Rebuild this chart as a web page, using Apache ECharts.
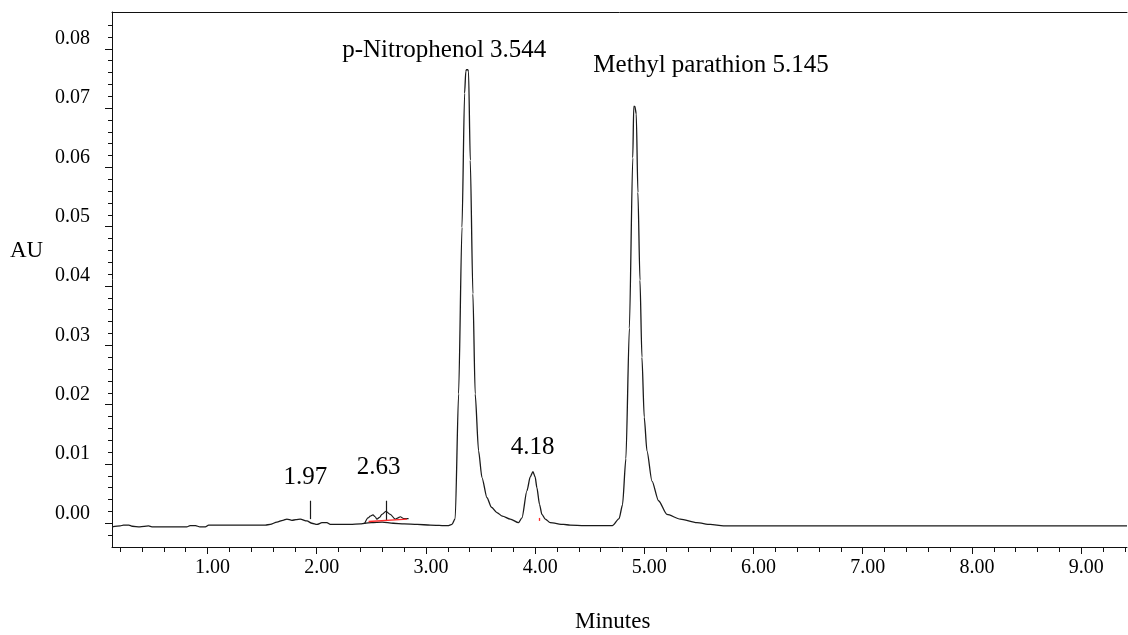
<!DOCTYPE html>
<html>
<head>
<meta charset="utf-8">
<script src="https://cdn.jsdelivr.net/npm/echarts@6/dist/echarts.min.js"></script>
<style>
html,body{margin:0;padding:0;background:#fff;}
#chart{width:1128px;height:635px;}
</style>
</head>
<body>
<div id="chart"></div>
<script>
// Retention time (minutes) and absorbance (AU) of the main trace
var traceTime = [0.125,0.20,0.23,0.28,0.31,0.38,0.46,0.49,0.81,0.84,0.89,0.93,0.98,1.01,1.53,1.574,1.635,1.69,1.727,1.773,1.81,1.849,1.91,1.956,2.002,2.048,2.093,2.124,2.307,2.40,2.44,2.50,2.60,2.70,2.80,2.92,3.04,3.20,3.238,3.268,3.299,3.330,3.354,3.365,3.372,3.382,3.390,3.406,3.430,3.451,3.482,3.513,3.559,3.60,3.650,3.70,3.772,3.848,3.879,3.925,3.955,3.980,4.000,4.016,4.040,4.062,4.093,4.138,4.26,4.32,4.45,4.707,4.769,4.800,4.831,4.863,4.894,4.903,4.913,4.926,4.941,4.960,4.978,4.999,5.024,5.07,5.13,5.207,5.329,5.482,5.604,5.725,9.42];
var traceAU = [-0.0006,-0.00045,-0.0003,-0.0003,-0.0005,-0.0006,-0.00045,-0.0006,-0.0006,-0.0004,-0.0004,-0.0006,-0.0006,-0.0003,-0.0003,-0.0002,0.0002,0.0005,0.0007,0.0005,0.0006,0.0007,0.0004,0.0000,-0.0002,0.0001,0.0001,-0.0002,-0.0002,-0.0001,0.0000,0.0001,0.0002,0.0000,-0.0001,-0.0002,-0.0003,-0.0004,-0.0002,0.0008,0.0218,0.0499,0.0725,0.0762,0.0765,0.0765,0.0762,0.0612,0.0387,0.0218,0.0122,0.0077,0.0043,0.0027,0.0018,0.0012,0.0007,0.0001,0.0009,0.0055,0.0078,0.0087,0.0078,0.0060,0.0032,0.0015,0.0007,0.0001,-0.0002,-0.0003,-0.0004,-0.0004,0.0008,0.0031,0.0109,0.0329,0.0616,0.0703,0.0703,0.0690,0.0558,0.0410,0.0280,0.0179,0.0122,0.0071,0.0038,0.0015,0.0007,0.0001,-0.0002,-0.00045,-0.00045];

// Integration overlay of the small peaks near 2.5-2.8 min
var overlayTime = [2.44,2.47,2.490,2.515,2.535,2.551,2.575,2.597,2.634,2.673,2.719,2.745,2.765,2.795,2.841];
var overlayAU = [0.0000,0.0009,0.0012,0.0014,0.0011,0.0007,0.0010,0.0015,0.0020,0.0015,0.0007,0.0009,0.0011,0.0008,0.0008];

// Peak annotations
var peakLabels = ['1.97','2.63','p-Nitrophenol 3.544','4.18','Methyl parathion 5.145'];
var peakLabelTime = [1.895,2.566,3.168,3.976,5.611];
var peakLabelAU = [0.0077,0.0094,0.0798,0.0128,0.0772];

// Peak marker ticks [time, topAU, bottomAU]
var markerTime = [1.94,2.636];
var markerTop = [0.0038,0.0038];
var markerBottom = [0.0007,0.0004];

// Axis ticks
var xMajorTicks = [1,2,3,4,5,6,7,8,9];
var xMinorTicks = [0.2,0.4,0.6,0.8,1.2,1.4,1.6,1.8,2.2,2.4,2.6,2.8,3.2,3.4,3.6,3.8,4.2,4.4,4.6,4.8,5.2,5.4,5.6,5.8,6.2,6.4,6.6,6.8,7.2,7.4,7.6,7.8,8.2,8.4,8.6,8.8,9.2,9.4];
var yMajorTicks = [0,0.01,0.02,0.03,0.04,0.05,0.06,0.07,0.08];
var yMinorTicks = [-0.002,0.002,0.004,0.006,0.008,0.012,0.014,0.016,0.018,0.022,0.024,0.026,0.028,0.032,0.034,0.036,0.038,0.042,0.044,0.046,0.048,0.052,0.054,0.056,0.058,0.062,0.064,0.066,0.068,0.072,0.074,0.076,0.078,0.082,0.084];

var X_MIN = 0.125, X_MAX = 9.42, Y_MIN = -0.004, Y_MAX = 0.0862;
var FONT = 'Liberation Serif';
var INK = '#000';

var traceData = traceTime.map(function(t,i){return [t, traceAU[i]];});
var overlayData = overlayTime.map(function(t,i){return [t, overlayAU[i]];});
var labelData = peakLabels.map(function(s,i){return {name:s, value:[peakLabelTime[i], peakLabelAU[i]]};});
var markerLines = markerTime.map(function(t,i){return [{coord:[t, markerTop[i]]},{coord:[t, markerBottom[i]]}];});

var chart = echarts.init(document.getElementById('chart'), null, {renderer:'canvas'});
chart.setOption({
  animation:false,
  backgroundColor:'#fff',
  textStyle:{fontFamily:FONT},
  grid:{left:112, right:1, top:12, bottom:88, containLabel:false},
  xAxis:[
    {type:'value', min:X_MIN, max:X_MAX, position:'bottom',
     axisLine:{show:true, onZero:false, lineStyle:{color:'#111', width:1}},
     axisTick:{show:true, customValues:xMajorTicks, length:7, lineStyle:{color:'#111'}},
     axisLabel:{show:true, customValues:xMajorTicks, margin:11, color:INK, fontFamily:FONT, fontSize:20, padding:[0,0,0,10],
       formatter:function(v){return v.toFixed(2);}},
     splitLine:{show:false}},
    {type:'value', min:X_MIN, max:X_MAX, position:'bottom',
     axisLine:{show:false, onZero:false},
     axisTick:{show:true, customValues:xMinorTicks, length:5, lineStyle:{color:'#111'}},
     axisLabel:{show:false}, splitLine:{show:false}},
    {type:'value', min:X_MIN, max:X_MAX, position:'top',
     axisLine:{show:true, onZero:false, lineStyle:{color:'#111', width:1}},
     axisTick:{show:false}, axisLabel:{show:false}, splitLine:{show:false}}
  ],
  yAxis:[
    {type:'value', min:Y_MIN, max:Y_MAX, position:'left',
     axisLine:{show:true, onZero:false, lineStyle:{color:'#111', width:1}},
     axisTick:{show:true, customValues:yMajorTicks, length:7, lineStyle:{color:'#111'}},
     axisLabel:{show:true, customValues:yMajorTicks, margin:22, color:INK, fontFamily:FONT, fontSize:20, verticalAlign:'bottom',
       formatter:function(v){return v.toFixed(2);}},
     splitLine:{show:false}},
    {type:'value', min:Y_MIN, max:Y_MAX, position:'left',
     axisLine:{show:false, onZero:false},
     axisTick:{show:true, customValues:yMinorTicks, length:4, lineStyle:{color:'#111'}},
     axisLabel:{show:false}, splitLine:{show:false}}
  ],
  graphic:[
    {type:'text', left:10, top:239, style:{text:'AU', font:'23px "Liberation Serif"', fill:INK}},
    {type:'text', left:575, top:610, style:{text:'Minutes', font:'23px "Liberation Serif"', fill:INK}}
  ],
  series:[
    {type:'line', name:'trace', data:traceData, showSymbol:false, smooth:0.25, smoothMonotone:'x',
     lineStyle:{color:'#1a1a1a', width:1.3}, z:3,
     markLine:{silent:true, symbol:['none','none'], label:{show:false},
       lineStyle:{color:'#1a1a1a', width:1.2, type:'solid'},
       data:markerLines}},
    {type:'line', name:'overlay', data:overlayData, showSymbol:false, smooth:0.3, smoothMonotone:'x',
     lineStyle:{color:'#1a1a1a', width:1.2}, z:4,
     markLine:{silent:true, symbol:['none','none'], label:{show:false},
       lineStyle:{color:'#ff2a2a', width:1.3, type:'solid'},
       data:[
         [{coord:[2.475,0.0003]},{coord:[2.826,0.0007]}],
         [{coord:[4.04,0.0004]},{coord:[4.04,0.0009]}]
       ]}},
    {type:'scatter', name:'labels', data:labelData, symbolSize:1, z:5,
     itemStyle:{color:'rgba(0,0,0,0)', opacity:1},
     label:{show:true, position:'inside', formatter:'{b}', color:INK, opacity:1, textBorderWidth:0, fontFamily:FONT, fontSize:25}}
  ]
});
</script>
</body>
</html>
